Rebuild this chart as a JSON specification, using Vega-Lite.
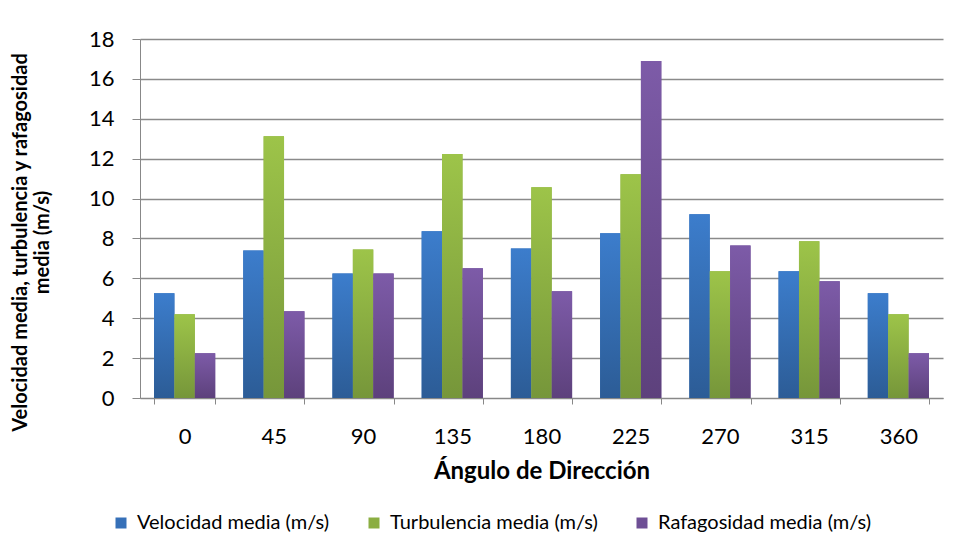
{
  "$schema": "https://vega.github.io/schema/vega-lite/v6.json",
  "width": 803,
  "height": 359,
  "autosize": {"type": "none"},
  "padding": {"left": 140, "top": 39, "right": 12, "bottom": 159},
  "background": "white",
  "config": {
    "font": "Lato",
    "view": {"stroke": null},
    "axis": {"labelFont": "Lato", "titleFont": "Lato", "labelColor": "#000000", "titleColor": "#000000"},
    "legend": {"labelFont": "Lato"}
  },
  "data": {
    "values": [
      {"angulo": 0, "serie": "Velocidad media (m/s)", "valor": 5.25},
      {"angulo": 0, "serie": "Turbulencia media (m/s)", "valor": 4.2},
      {"angulo": 0, "serie": "Rafagosidad media (m/s)", "valor": 2.25},
      {"angulo": 45, "serie": "Velocidad media (m/s)", "valor": 7.4},
      {"angulo": 45, "serie": "Turbulencia media (m/s)", "valor": 13.13},
      {"angulo": 45, "serie": "Rafagosidad media (m/s)", "valor": 4.35},
      {"angulo": 90, "serie": "Velocidad media (m/s)", "valor": 6.24},
      {"angulo": 90, "serie": "Turbulencia media (m/s)", "valor": 7.45},
      {"angulo": 90, "serie": "Rafagosidad media (m/s)", "valor": 6.24},
      {"angulo": 135, "serie": "Velocidad media (m/s)", "valor": 8.36},
      {"angulo": 135, "serie": "Turbulencia media (m/s)", "valor": 12.23},
      {"angulo": 135, "serie": "Rafagosidad media (m/s)", "valor": 6.5},
      {"angulo": 180, "serie": "Velocidad media (m/s)", "valor": 7.5},
      {"angulo": 180, "serie": "Turbulencia media (m/s)", "valor": 10.57},
      {"angulo": 180, "serie": "Rafagosidad media (m/s)", "valor": 5.35},
      {"angulo": 225, "serie": "Velocidad media (m/s)", "valor": 8.26},
      {"angulo": 225, "serie": "Turbulencia media (m/s)", "valor": 11.22},
      {"angulo": 225, "serie": "Rafagosidad media (m/s)", "valor": 16.9},
      {"angulo": 270, "serie": "Velocidad media (m/s)", "valor": 9.21},
      {"angulo": 270, "serie": "Turbulencia media (m/s)", "valor": 6.35},
      {"angulo": 270, "serie": "Rafagosidad media (m/s)", "valor": 7.65},
      {"angulo": 315, "serie": "Velocidad media (m/s)", "valor": 6.35},
      {"angulo": 315, "serie": "Turbulencia media (m/s)", "valor": 7.86},
      {"angulo": 315, "serie": "Rafagosidad media (m/s)", "valor": 5.85},
      {"angulo": 360, "serie": "Velocidad media (m/s)", "valor": 5.25},
      {"angulo": 360, "serie": "Turbulencia media (m/s)", "valor": 4.2},
      {"angulo": 360, "serie": "Rafagosidad media (m/s)", "valor": 2.25}
    ]
  },
  "encoding": {
    "x": {
      "field": "angulo",
      "type": "ordinal",
      "scale": {"paddingInner": 0.314, "paddingOuter": 0.157},
      "axis": {
        "title": "Ángulo de Dirección",
        "titleFontSize": 24,
        "titleFontWeight": "bold",
        "titlePadding": 12,
        "labelAngle": 0,
        "labelFontSize": 22,
        "labelPadding": 22,
        "tickBand": "extent",
        "tickSize": 6,
        "tickColor": "#888888",
        "domainColor": "#888888",
        "grid": false
      }
    },
    "xOffset": {
      "field": "serie",
      "type": "nominal",
      "sort": ["Velocidad media (m/s)", "Turbulencia media (m/s)", "Rafagosidad media (m/s)"],
      "scale": {"paddingInner": 0, "paddingOuter": 0}
    },
    "y": {
      "field": "valor",
      "type": "quantitative",
      "scale": {"domain": [0, 18], "nice": false},
      "axis": {
        "title": ["Velocidad media, turbulencia y rafagosidad", "media (m/s)"],
        "titleFontSize": 20,
        "titleFontWeight": "bold",
        "titlePadding": 36,
        "titleY": 203,
        "values": [0, 2, 4, 6, 8, 10, 12, 14, 16, 18],
        "labelFontSize": 22,
        "labelPadding": 18,
        "tickSize": 8,
        "tickColor": "#888888",
        "domainColor": "#888888",
        "gridColor": "#8a8a8a",
        "gridWidth": 1.5
      }
    }
  },
  "layer": [
    {
      "mark": {"type": "bar"},
      "encoding": {
        "color": {
          "field": "serie",
          "type": "nominal",
          "sort": ["Velocidad media (m/s)", "Turbulencia media (m/s)", "Rafagosidad media (m/s)"],
          "scale": {"range": ["#3670b8", "#8bae42", "#6e4f95"]},
          "legend": {
            "title": null,
            "orient": "none",
            "legendX": -29,
            "legendY": 474,
            "direction": "horizontal",
            "symbolType": "square",
            "symbolSize": 121,
            "symbolStrokeWidth": 0,
            "labelFontSize": 20,
            "labelLimit": 0,
            "labelOffset": 6,
            "labelColor": "#000000",
            "columnPadding": 34
          }
        }
      }
    },
    {
      "transform": [{"filter": "datum.serie === 'Velocidad media (m/s)'"}],
      "mark": {"type": "bar", "fill": {"gradient": "linear", "x1": 0, "y1": 0, "x2": 0, "y2": 1, "stops": [{"offset": 0, "color": "#3c7dcc"}, {"offset": 1, "color": "#2c5c96"}]}}
    },
    {
      "transform": [{"filter": "datum.serie === 'Turbulencia media (m/s)'"}],
      "mark": {"type": "bar", "fill": {"gradient": "linear", "x1": 0, "y1": 0, "x2": 0, "y2": 1, "stops": [{"offset": 0, "color": "#9dc449"}, {"offset": 1, "color": "#76963a"}]}}
    },
    {
      "transform": [{"filter": "datum.serie === 'Rafagosidad media (m/s)'"}],
      "mark": {"type": "bar", "fill": {"gradient": "linear", "x1": 0, "y1": 0, "x2": 0, "y2": 1, "stops": [{"offset": 0, "color": "#7d5ba8"}, {"offset": 1, "color": "#5d417c"}]}}
    }
  ]
}
